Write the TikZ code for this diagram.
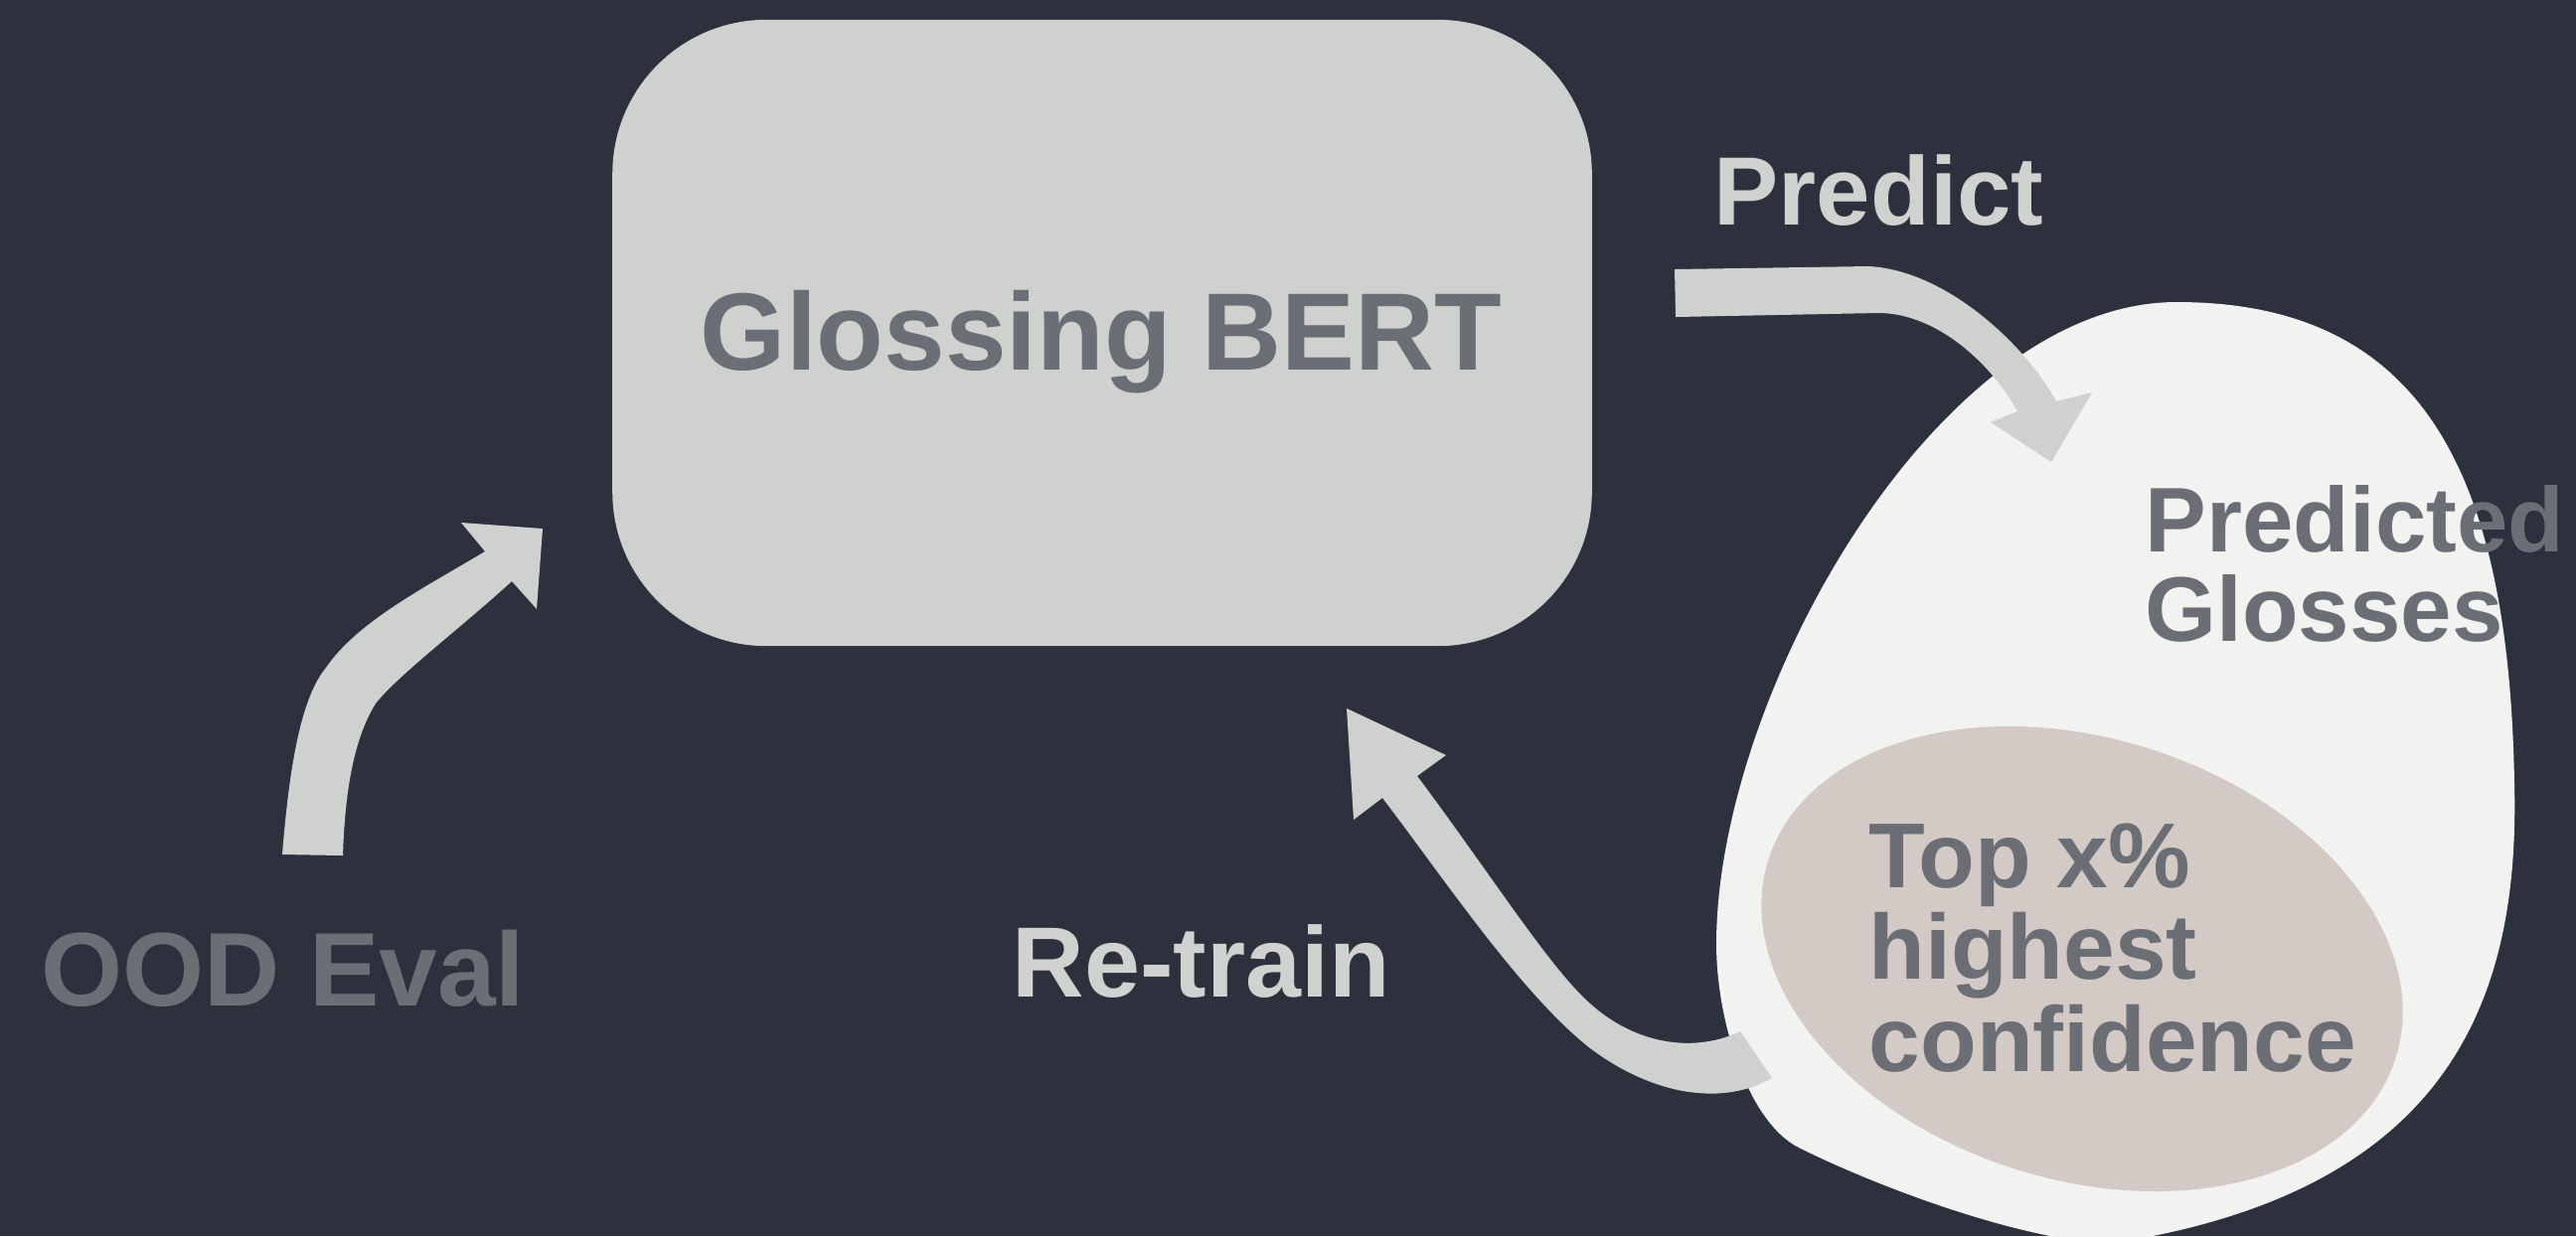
\documentclass[tikz,border=0pt]{standalone}
\usepackage{fontspec}
\setmainfont{Liberation Sans}
\definecolor{bg}{RGB}{45,48,61}
\definecolor{boxgray}{RGB}{207,209,206}
\definecolor{txtgray}{RGB}{107,110,117}
\definecolor{blobwhite}{RGB}{242,242,240}
\definecolor{beige}{RGB}{211,202,197}
\definecolor{lightlbl}{RGB}{208,210,207}
\tikzset{
  flow/.style={fill=boxgray,draw=none},
  darklbl/.style={text=txtgray,inner sep=0pt},
  lightl/.style={text=lightlbl,inner sep=0pt},
}
\begin{document}
\begin{tikzpicture}[x=0.01cm,y=-0.01cm]
% canvas
\fill[bg] (0,0) rectangle (2592,1244);
\useasboundingbox (0,0) rectangle (2592,1244);
\clip (0,0) rectangle (2592,1244);

% model box
\node[fill=boxgray,rounded corners=1.55cm,minimum width=9.85cm,minimum height=6.3cm,
      inner sep=0pt] (bert) at (1109,335) {};
\node[darklbl,anchor=base,font=\bfseries\fontsize{31.5pt}{31.5pt}\selectfont]
  (bertlbl) at (1108,372) {Glossing BERT};

% pool of predicted glosses (egg shape)
\fill[blobwhite] (2190,304)
  .. controls (2440,304) and (2525,480) .. (2530,790)
  .. controls (2535,1000) and (2470,1200) .. (2120,1252)
  .. controls (2020,1245) and (1880,1190) .. (1810,1155)
  .. controls (1760,1130) and (1727,1030) .. (1727,950)
  .. controls (1727,700) and (1950,304) .. (2190,304) -- cycle;

% confident subset
\fill[beige,rotate around={-17.5:(2095,965)}] (2095,965) ellipse [x radius=331, y radius=222];

% Predict arrow
\fill[flow] (1685,271) -- (1880,268)
  .. controls (1960,272) and (2040,350) .. (2069,404)
  -- (2105,395) -- (2064,465) -- (2003,425) -- (2030,414)
  .. controls (2005,368) and (1950,315) .. (1890,315)
  -- (1686,319) -- cycle;

% Re-train arrow
\fill[flow] (1355,713) -- (1455,760) -- (1426,781)
  .. controls (1500,880) and (1560,975) .. (1600,1010)
  .. controls (1650,1055) and (1710,1058) .. (1751,1038)
  -- (1783,1085)
  .. controls (1730,1115) and (1660,1100) .. (1600,1055)
  .. controls (1530,1000) and (1450,880) .. (1391,803)
  -- (1362,825) -- cycle;

% OOD arrow
\fill[flow] (284,860)
  .. controls (292,760) and (305,700) .. (328,672)
  .. controls (360,625) and (430,590) .. (488,555)
  -- (464,526) -- (546,532) -- (540,613) -- (515,585)
  .. controls (460,635) and (400,680) .. (378,708)
  .. controls (355,745) and (347,800) .. (345,861) -- cycle;

% labels
\node[lightl,anchor=base west,font=\bfseries\fontsize{27.8pt}{27.8pt}\selectfont]
  (predict) at (1724,226) {Predict};
\node[darklbl,anchor=base west,align=left,font=\bfseries\fontsize{26.3pt}{25.6pt}\selectfont]
  (glosses) at (2158,645) {Predicted\\Glosses};
\node[darklbl,anchor=base west,align=left,font=\bfseries\fontsize{26.4pt}{26.3pt}\selectfont]
  (topx) at (1880,1078) {Top x\%\\highest\\confidence};
\node[lightl,anchor=base west,font=\bfseries\fontsize{28.6pt}{28.6pt}\selectfont]
  (retrain) at (1018,1003) {Re-train};
\node[darklbl,anchor=base west,font=\bfseries\fontsize{30pt}{30pt}\selectfont]
  (ood) at (41,1012) {OOD Eval};
\end{tikzpicture}
\end{document}
